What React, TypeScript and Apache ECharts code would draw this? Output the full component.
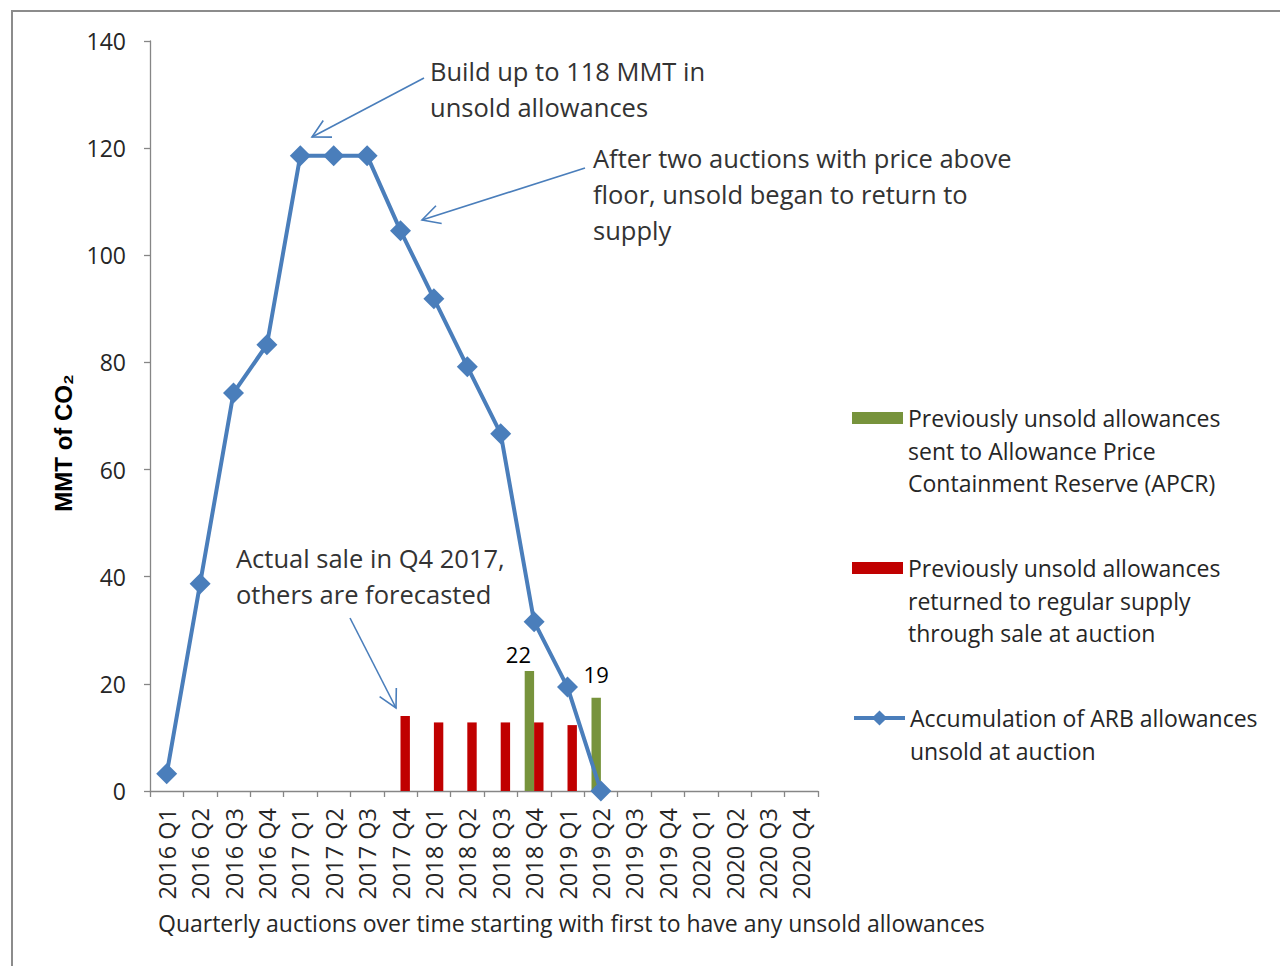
import React, { useEffect, useRef } from "react";
import * as echarts from "echarts";

const quarters = [
  "2016 Q1", "2016 Q2", "2016 Q3", "2016 Q4",
  "2017 Q1", "2017 Q2", "2017 Q3", "2017 Q4",
  "2018 Q1", "2018 Q2", "2018 Q3", "2018 Q4",
  "2019 Q1", "2019 Q2", "2019 Q3", "2019 Q4",
  "2020 Q1", "2020 Q2", "2020 Q3", "2020 Q4",
];

const accumulatedUnsold = [
  3.2, 38.7, 74.3, 83.3, 118.6, 118.6, 118.6, 104.6, 91.9, 79.2,
  66.7, 31.6, 19.4, 0, null, null, null, null, null, null,
];

const sentToAPCR = [
  null, null, null, null, null, null, null, null, null, null,
  null, 22.4, null, 17.4, null, null, null, null, null, null,
];

const apcrLabels = [
  null, null, null, null, null, null, null, null, null, null,
  null, "22", null, "19", null, null, null, null, null, null,
];

const returnedToSupply = [
  null, null, null, null, null, null, null, 14.0, 12.8, 12.8,
  12.8, 12.8, 12.3, null, null, null, null, null, null, null,
];

const yTicks = { min: 0, max: 140, interval: 20 };

const nameAPCR = "Previously unsold allowances sent to Allowance Price Containment Reserve (APCR)";
const nameReturned = "Previously unsold allowances returned to regular supply through sale at auction";
const nameAccum = "Accumulation of ARB allowances unsold at auction";

const legendLinesAPCR = ["Previously unsold allowances", "sent to Allowance Price", "Containment Reserve (APCR)"];
const legendLinesReturned = ["Previously unsold allowances", "returned to regular supply", "through sale at auction"];
const legendLinesAccum = ["Accumulation of ARB allowances", "unsold at auction"];

const annotationBuild = ["Build up to 118 MMT in", "unsold allowances"];
const annotationReturn = ["After two auctions with price above", "floor, unsold began to return to", "supply"];
const annotationActual = ["Actual sale in Q4 2017,", "others are forecasted"];

const xTitle = "Quarterly auctions over time starting with first to have any unsold allowances";
const yTitle = "MMT of CO₂";

const FONT = "'Open Sans', 'Noto Sans', sans-serif";
const ARIAL = "'Liberation Sans', Arial, sans-serif";
const TXT = "#262626";
const BLUE = "#4a7ebb";
const GREEN = "#77933c";
const RED = "#c00000";
const AXIS = "#868686";

function arrow(x1: number, y1: number, x2: number, y2: number) {
  const ang = Math.atan2(y1 - y2, x1 - x2);
  const len = 20;
  const spread = (28 * Math.PI) / 180;
  const a1 = [x2 + len * Math.cos(ang - spread), y2 + len * Math.sin(ang - spread)];
  const a2 = [x2 + len * Math.cos(ang + spread), y2 + len * Math.sin(ang + spread)];
  const style = { stroke: BLUE, lineWidth: 1.6, fill: "none" };
  return [
    { type: "line", shape: { x1, y1, x2, y2 }, style },
    { type: "polyline", shape: { points: [a1, [x2, y2], a2] }, style },
  ];
}

function textBlock(lines: string[], x: number, y: number, size: number, lh: number) {
  return {
    type: "text",
    left: x,
    top: y,
    style: {
      text: lines.join("\n"),
      fontSize: size,
      fontFamily: FONT,
      lineHeight: lh,
      fill: "#333333",
    },
  };
}

// pad lines above so the legend icon sits beside the first line of a multi-line label
function legendLabel(lines: string[]) {
  return "\n".repeat(lines.length - 1) + lines.join("\n");
}

export default function App() {
  const ref = useRef<HTMLDivElement>(null);
  useEffect(() => {
    document.body.style.margin = "0";
    if (!ref.current) return;
    const chart = echarts.init(ref.current, null, { renderer: "svg" });

    const LH = 32.5;
    const legendBase = {
      orient: "vertical",
      left: 852,
      padding: 0,
      itemWidth: 51,
      selectedMode: false,
      textStyle: { color: TXT, fontFamily: FONT, fontSize: 23, lineHeight: LH },
    };

    const option: any = {
      animation: false,
      backgroundColor: "#ffffff",
      title: {
        text: xTitle,
        left: 158,
        top: 911,
        padding: 0,
        textStyle: { color: TXT, fontFamily: FONT, fontSize: 23, fontWeight: "normal" },
      },
      grid: { left: 150, right: 462, top: 41, bottom: 175, containLabel: false },
      legend: [
        {
          ...legendBase,
          top: 418 - LH * 2.5,
          data: [{ name: nameAPCR, icon: "rect" }],
          itemHeight: 12,
          formatter: () => legendLabel(legendLinesAPCR),
        },
        {
          ...legendBase,
          top: 568 - LH * 2.5,
          data: [{ name: nameReturned, icon: "rect" }],
          itemHeight: 12,
          formatter: () => legendLabel(legendLinesReturned),
        },
        {
          ...legendBase,
          top: 718 - LH * 1.5,
          data: [{ name: nameAccum }],
          itemHeight: 19,
          lineStyle: { width: 4 },
          formatter: () => legendLabel(legendLinesAccum),
        },
      ],
      xAxis: {
        type: "category",
        data: quarters,
        boundaryGap: true,
        axisLine: { lineStyle: { color: AXIS, width: 1.3 } },
        axisTick: { show: true, length: 6, lineStyle: { color: AXIS, width: 1.3 } },
        axisLabel: {
          rotate: 90,
          interval: 0,
          margin: 17,
          color: TXT,
          fontFamily: FONT,
          fontSize: 23.5,
        },
      },
      yAxis: {
        type: "value",
        min: yTicks.min,
        max: yTicks.max,
        interval: yTicks.interval,
        name: yTitle,
        nameLocation: "middle",
        nameGap: 73,
        nameRotate: 90,
        nameTextStyle: {
          color: "#000000",
          fontFamily: ARIAL,
          fontWeight: "bold",
          fontSize: 24,
          padding: [0, 54, 0, 0],
        },
        splitLine: { show: false },
        axisLine: { show: true, lineStyle: { color: AXIS, width: 1.3 } },
        axisTick: { show: true, length: 6, lineStyle: { color: AXIS, width: 1.3 } },
        axisLabel: { color: TXT, fontFamily: FONT, fontSize: 23, margin: 24 },
      },
      series: [
        {
          name: nameAPCR,
          type: "bar",
          data: sentToAPCR.map((v, i) =>
            v == null
              ? null
              : {
                  value: v,
                  label: {
                    show: apcrLabels[i] != null,
                    position: "top",
                    formatter: apcrLabels[i] || "",
                    color: "#000000",
                    fontFamily: FONT,
                    fontSize: 22,
                    offset: i === 11 ? [-11, -1] : [0, -8],
                  },
                }
          ),
          barWidth: 9.4,
          barGap: "0%",
          itemStyle: { color: GREEN },
          z: 2,
        },
        {
          name: nameReturned,
          type: "bar",
          data: returnedToSupply,
          barWidth: 9.4,
          barGap: "0%",
          itemStyle: { color: RED },
          z: 2,
        },
        {
          name: nameAccum,
          type: "line",
          data: accumulatedUnsold,
          symbol: "diamond",
          symbolSize: 21,
          showAllSymbol: true,
          connectNulls: false,
          lineStyle: { color: BLUE, width: 4 },
          itemStyle: { color: BLUE },
          z: 3,
        },
      ],
      graphic: [
        {
          type: "rect",
          shape: { x: 12, y: 11, width: 1400, height: 1100 },
          style: { fill: "none", stroke: "#8c8c8c", lineWidth: 2 },
          silent: true,
        },
        textBlock(annotationBuild, 430, 53, 25.5, 36),
        textBlock(annotationReturn, 593, 140, 25.5, 36),
        textBlock(annotationActual, 236, 540, 25.5, 36),
        ...arrow(424, 78, 312, 137),
        ...arrow(585, 168, 422, 220),
        ...arrow(350, 618, 396, 708),
      ],
    };
    chart.setOption(option);
    return () => chart.dispose();
  }, []);
  return <div ref={ref} style={{ width: 1280, height: 966 }} />;
}
